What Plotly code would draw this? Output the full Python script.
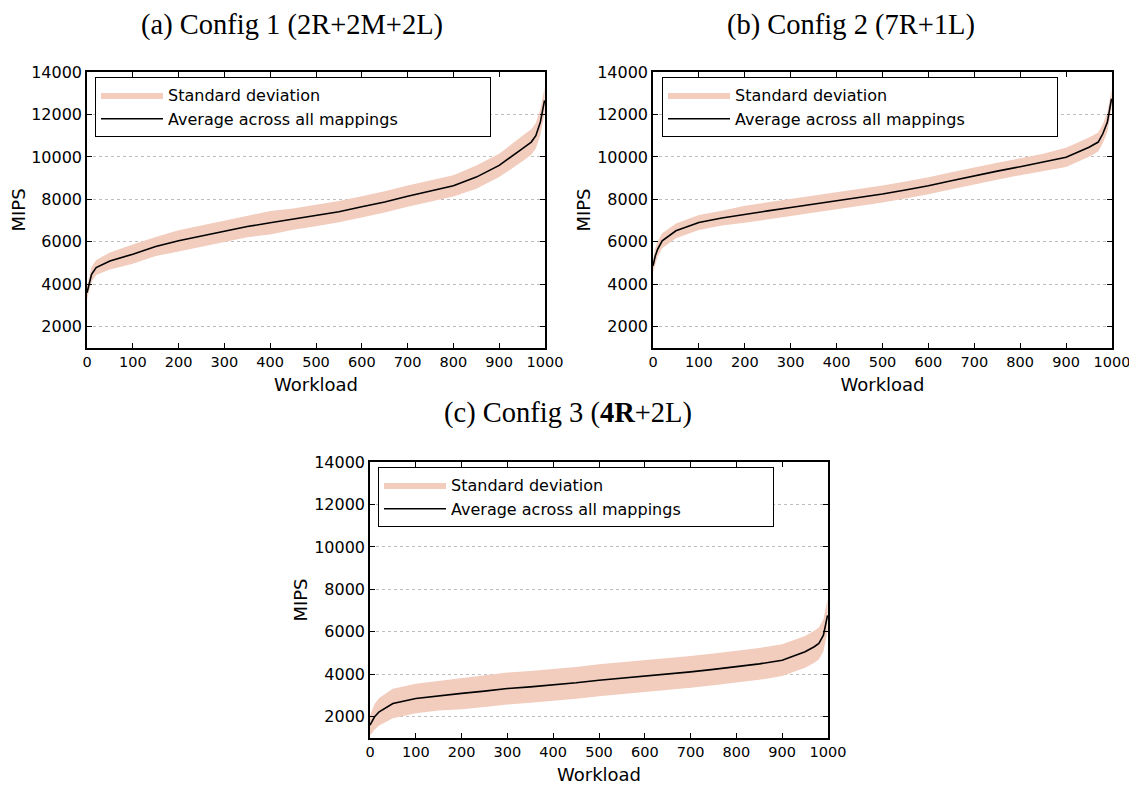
import plotly.graph_objects as go

W, H = 1137, 785
OFF = 8  # the page body adds an 8px margin; the figure is placed at (8, 8)
FW, FH = W - OFF, H - OFF

# ---------------- data ----------------
workload = [0, 5, 10, 20, 50, 100, 150, 200, 250, 300, 350, 400, 450, 500,
            550, 600, 650, 700, 750, 800, 850, 900, 950, 970, 980, 990, 999]

avg_c1 = [3600, 4050, 4470, 4790, 5100, 5420, 5780, 6050, 6280, 6520, 6720, 6900, 7070, 7230,
          7420, 7650, 7880, 8150, 8380, 8640, 9050, 9600, 10380, 10700, 11000, 11650, 12660]
std_c1 = [300, 350, 350, 350, 400, 450, 450, 500, 500, 500, 500, 550, 500, 500,
          500, 500, 500, 500, 500, 500, 550, 550, 600, 600, 600, 600, 600]

avg_c2 = [4870, 5340, 5650, 6050, 6520, 6910, 7120, 7300, 7460, 7620, 7780, 7930, 8080, 8250,
          8440, 8640, 8880, 9120, 9330, 9540, 9750, 9980, 10460, 10700, 11090, 11640, 12740]
std_c2 = [300, 350, 350, 350, 350, 350, 350, 400, 400, 400, 400, 400, 400, 400,
          400, 400, 400, 400, 400, 400, 400, 450, 450, 450, 450, 450, 450]

avg_c3 = [1605, 1780, 2000, 2235, 2625, 2860, 2990, 3100, 3210, 3330, 3410, 3490, 3600, 3720,
          3810, 3910, 4010, 4115, 4230, 4350, 4490, 4665, 5060, 5300, 5450, 5840, 6780]
std_c3 = [450, 550, 600, 650, 700, 700, 700, 750, 750, 750, 750, 750, 750, 750,
          750, 750, 750, 750, 750, 750, 750, 750, 750, 750, 750, 750, 750]

titles = ["(a) Config 1 (2R+2M+2L)", "(b) Config 2 (7R+1L)", "(c) Config 3 (<b>4R</b>+2L)"]
y_ticks = [2000, 4000, 6000, 8000, 10000, 12000, 14000]
y_ticktext = ["2000", "4000", "6000", "8000", "10000", "12000", "14000"]
x_ticks = [0, 100, 200, 300, 400, 500, 600, 700, 800, 900, 1000]
x_ticktext = ["0", "100", "200", "300", "400", "500", "600", "700", "800", "900", "1000"]

# ---------------- layout geometry (page pixels) ----------------
panels = [
    # left, right, top, bottom
    (87, 545, 72, 348),
    (653, 1112, 72, 348),
    (370, 828, 462, 738),
]
title_pos = [(292, 25), (851, 25), (568, 413)]
legend_pos = [(95, 77), (662, 77), (378, 467)]


def px(x):
    return (x - OFF) / FW


def py(y):
    return 1 - (y - OFF) / FH


band_color = "rgb(242,204,189)"
sans = "DejaVu Sans"
pad = "\u00a0" * 17

fig = go.Figure()
series = [(avg_c1, std_c1), (avg_c2, std_c2), (avg_c3, std_c3)]
for i, (avg, std) in enumerate(series):
    xa = "x" if i == 0 else f"x{i+1}"
    ya = "y" if i == 0 else f"y{i+1}"
    lg = "legend" if i == 0 else f"legend{i+1}"
    lower = [a - s for a, s in zip(avg, std)]
    upper = [a + s for a, s in zip(avg, std)]
    fig.add_trace(go.Scatter(x=workload, y=lower, mode="lines", line=dict(width=0, color=band_color),
                             showlegend=False, hoverinfo="skip", xaxis=xa, yaxis=ya, legend=lg))
    fig.add_trace(go.Scatter(x=workload, y=upper, mode="lines", line=dict(width=0, color=band_color),
                             fill="tonexty", fillcolor=band_color, name="Standard deviation",
                             xaxis=xa, yaxis=ya, legend=lg))
    fig.add_trace(go.Scatter(x=workload, y=avg, mode="lines", line=dict(width=1.6, color="black"),
                             name="Average across all mappings" + pad, xaxis=xa, yaxis=ya, legend=lg))

layout = dict(width=FW, height=FH, autosize=False, margin=dict(l=0, r=0, t=0, b=0, autoexpand=False),
              paper_bgcolor="white", plot_bgcolor="white", font=dict(family=sans, color="black"))

annotations = []
for i, (l, r, t, b) in enumerate(panels):
    sfx = "" if i == 0 else str(i + 1)
    layout["xaxis" + sfx] = dict(
        domain=[px(l), px(r)], range=[0, 1000], tickvals=x_ticks, ticktext=x_ticktext, anchor="y" + sfx,
        ticks="inside", ticklen=5, tickwidth=1, tickcolor="black",
        showline=True, linecolor="black", linewidth=1.5, mirror="ticks", automargin=False,
        showgrid=False, zeroline=False, tickfont=dict(size=14.5, family=sans),
        title=dict(text="Workload", font=dict(size=18, family=sans), standoff=9),
    )
    layout["yaxis" + sfx] = dict(
        domain=[py(b), py(t)], range=[1000, 14000], tickvals=y_ticks, ticktext=y_ticktext,
        anchor="x" + sfx, automargin=False,
        ticks="inside", ticklen=5, tickwidth=1, tickcolor="black",
        showline=True, linecolor="black", linewidth=1.5, mirror="ticks",
        showgrid=True, gridcolor="#bdbdbd", griddash="dot", gridwidth=1, zeroline=False,
        tickfont=dict(size=16, family=sans),
        title=dict(text="MIPS", font=dict(size=18, family=sans), standoff=2),
    )
    lx, ly = legend_pos[i]
    layout["legend" + ("" if i == 0 else str(i + 1))] = dict(
        x=px(lx), y=py(ly), xanchor="left", yanchor="top", xref="paper", yref="paper",
        bgcolor="white", bordercolor="black", borderwidth=1, traceorder="normal",
        font=dict(size=16, family=sans), itemwidth=62, tracegroupgap=0,
    )
    tx, ty = title_pos[i]
    annotations.append(dict(text=titles[i], x=px(tx), y=py(ty), xref="paper", yref="paper",
                            xanchor="center", yanchor="middle", showarrow=False,
                            font=dict(family="Liberation Serif", size=28.5, color="black")))

layout["annotations"] = annotations
fig.update_layout(**layout)
fig.write_html("out.html")
